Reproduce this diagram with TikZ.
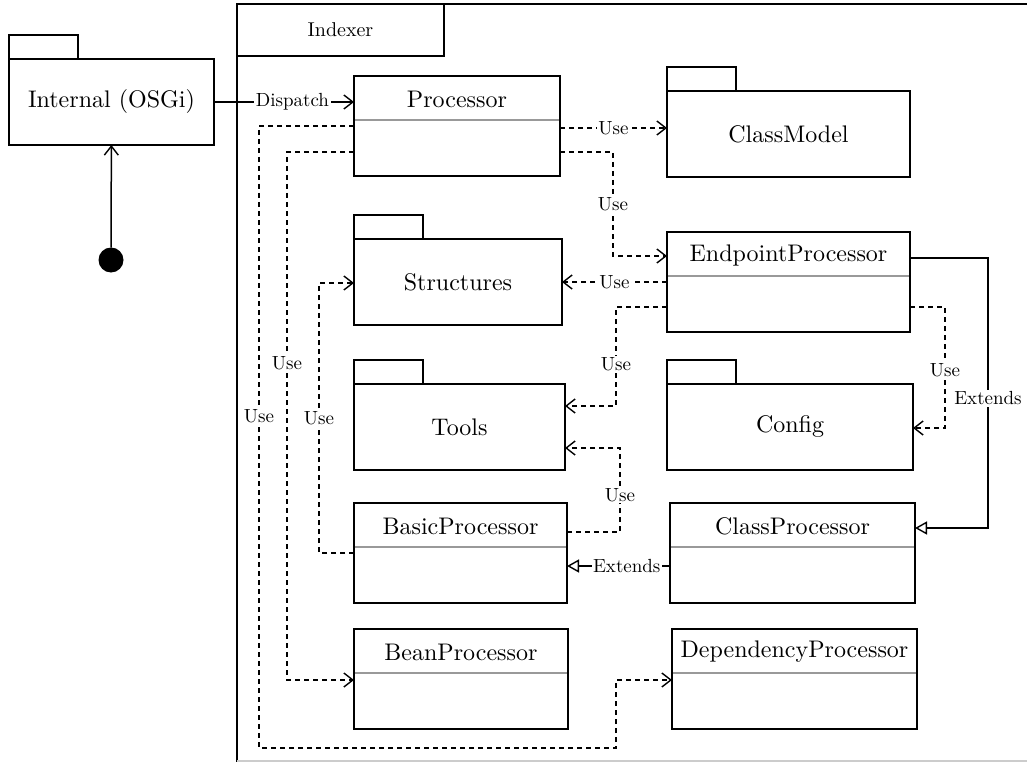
\documentclass[tikz,border=0pt]{standalone}
\usepackage{fontspec}
\setmainfont{lmroman10-regular}[Extension=.otf]
\usetikzlibrary{arrows.meta}

% one unit = one point, y axis pointing down
\newcommand\namefont{\fontsize{24}{28}\selectfont}
\newcommand\labelfont{\fontsize{19}{22}\selectfont}

% package: tab on top of a body holding the name
% #1 name, #2 x, #3 y of body top, #4 width, #5 height, #6 text
\newcommand\pkgbox[6]{%
  \node[box, anchor=south west, minimum width=69, minimum height=24] (#1tab) at (#2,#3) {};
  \node[box, anchor=north west, minimum width=#4, minimum height=#5, font=\namefont] (#1) at (#2,#3) {#6};
}
% class: box with a title and a grey separator
% #1 name, #2 x, #3 y top, #4 width, #5 title
\newcommand\classbox[5]{%
  \node[box, anchor=north west, minimum width=#4, minimum height=100] (#1) at (#2,#3) {};
  \node[font=\namefont] (#1title) at (#2+#4/2,#3+23) {#5};
  \draw[sepline] (#2+1,#3+44) -- (#2+#4-1,#3+44);
}

\begin{document}
\begin{tikzpicture}[x=1pt,y=-1pt,
  every node/.style={inner sep=0pt, outer sep=0pt},
  box/.style={draw, line width=1.6pt, inner sep=0pt, outer sep=0pt},
  sepline/.style={draw=black!40, line width=1.6pt},
  lbl/.style={fill=white, inner sep=1.5pt, font=\labelfont},
  solidarr/.style={line width=1.5pt, -{Straight Barb[length=9pt, width=14pt, line width=1.4pt]}},
  dep/.style={line width=1.5pt, dash pattern=on 5pt off 4pt, -{Straight Barb[length=9pt, width=14pt, line width=1.4pt]}},
  inherit/.style={line width=1.5pt, -{Triangle[open, length=12pt, width=13pt, line width=1.4pt]}}
]
\useasboundingbox (0,0) rectangle (1027,762);

% outer frame of the Indexer package
\draw[line width=1.6pt] (237,762) -- (237,4) -- (1027,4);
\draw[black!20, line width=1.2pt] (237,761) -- (1027,761);
\node[box, anchor=north west, minimum width=207, minimum height=52,
      font=\fontsize{20}{24}\selectfont] (indexer) at (237,4) {Indexer};

% external package and its entry point
\pkgbox{internal}{9}{59}{205}{86}{Internal (OSGi)}
\node[circle, fill=black, minimum size=25] (init) at (111,260) {};

% packages
\pkgbox{classmodel}{667}{91}{243}{86}{ClassModel}
\pkgbox{structures}{354}{239}{208}{86}{Structures}
\pkgbox{tools}{354}{384}{211}{86}{Tools}
\pkgbox{config}{667}{384}{246}{86}{Config}

% classes
\classbox{proc}{354}{76}{206}{Processor}
\classbox{endpoint}{667}{232}{243}{EndpointProcessor}
\classbox{basic}{354}{503}{213}{BasicProcessor}
\classbox{classproc}{670}{503}{245}{ClassProcessor}
\classbox{bean}{354}{629}{214}{BeanProcessor}
\classbox{dependency}{672}{629}{245}{DependencyProcessor}

% connectors
\draw[solidarr] (init) -- (internal);
\draw[solidarr] (internal.east |- 0,102) -- node[lbl, pos=0.56] {Dispatch} (proc.west |- 0,102);

\draw[dep] (proc.east |- 0,128) -- node[lbl] {Use} (classmodel.west |- 0,128);
\draw[dep] (proc.east |- 0,152) -- (613,152) -- node[lbl] {Use} (613,256) -- (endpoint.west |- 0,256);
\draw[dep] (endpoint.west |- 0,282) -- node[lbl] {Use} (structures.east |- 0,282);
\draw[dep] (endpoint.west |- 0,307) -- (616,307) -- node[lbl, pos=0.58] {Use} (616,406) -- (tools.east |- 0,406);
\draw[dep] (endpoint.east |- 0,307) -- (945,307) -- node[lbl, pos=0.52] {Use} (945,428) -- (config.east |- 0,428);
\draw[inherit] (endpoint.east |- 0,258) -- (988,258) -- node[lbl, pos=0.52] {Extends} (988,528) -- (classproc.east |- 0,528);
\draw[dep] (basic.east |- 0,532) -- (620,532) -- node[lbl, pos=0.44] {Use} (620,448) -- (tools.east |- 0,448);
\draw[inherit] (classproc.west |- 0,566) -- node[lbl, pos=0.42] {Extends} (basic.east |- 0,566);
\draw[dep] (basic.west |- 0,553) -- (319,553) -- node[lbl, pos=0.5] {Use} (319,283) -- (structures.west |- 0,283);
\draw[dep] (proc.west |- 0,152) -- (287,152) -- node[lbl, pos=0.4] {Use} (287,680) -- (bean.west |- 0,680);
\draw[dep] (proc.west |- 0,126) -- (259,126) -- node[lbl, pos=0.466] {Use} (259,748) -- (616,748) -- (616,680) -- (dependency.west |- 0,680);
\end{tikzpicture}
\end{document}
